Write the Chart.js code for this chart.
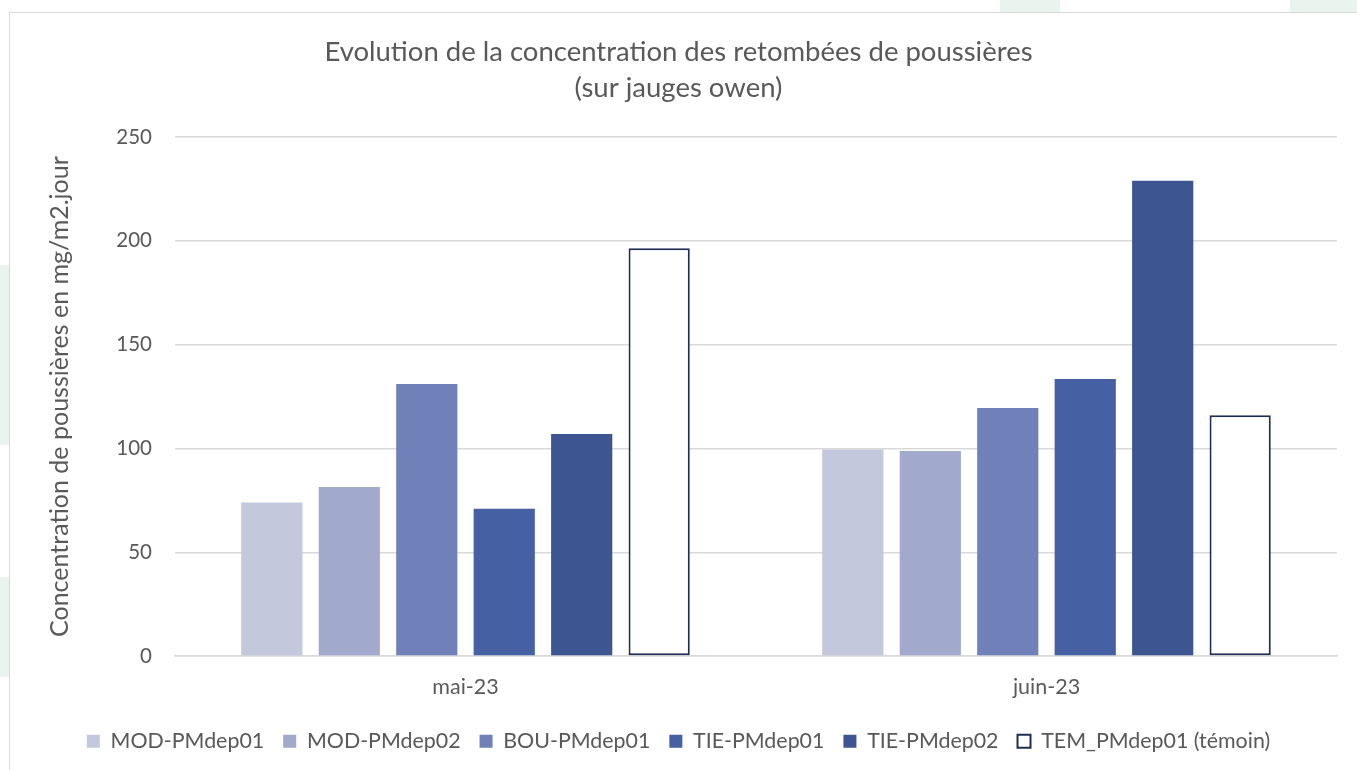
<!DOCTYPE html>
<html lang="fr">
<head>
  <meta charset="utf-8">
  <title>Evolution de la concentration des retombées de poussières</title>
  <script src="https://cdn.jsdelivr.net/npm/chart.js@4.4.0/dist/chart.umd.min.js"></script>
  <style>
    html, body { margin: 0; padding: 0; background: #fff; }
    #holder { position: relative; width: 1357px; height: 770px; }
  </style>
</head>
<body>
  <div id="holder">
    <canvas id="chart" width="1357" height="770"></canvas>
  </div>
<script>
  // donnees
  var mois = ['mai-23', 'juin-23'];
  var stations = ['MOD-PMdep01', 'MOD-PMdep02', 'BOU-PMdep01', 'TIE-PMdep01', 'TIE-PMdep02', 'TEM_PMdep01 (témoin)'];
  var modDep01 = [74, 99.5];
  var modDep02 = [81.5, 98.8];
  var bouDep01 = [131, 119.5];
  var tieDep01 = [71, 133.5];
  var tieDep02 = [107, 229];
  var temDep01 = [196.5, 116];
  var yTicks = [0, 50, 100, 150, 200, 250];

  var couleurs = ['#C3C8DC', '#A1A9CC', '#7080B8', '#4561A3', '#3D5590', '#FFFFFF'];
  var series = [modDep01, modDep02, bouDep01, tieDep01, tieDep02, temDep01];
  var texte = '#595959';
  var police = 'Lato, "Open Sans", sans-serif';

  // cadre gris + formes vertes pales du fond
  var cadre = {
    id: 'cadre',
    beforeDraw: function (chart) {
      var c = chart.ctx;
      c.save();
      c.fillStyle = '#EAF4EE';
      c.fillRect(0, 265, 9, 180);
      c.fillRect(0, 577, 9, 100);
      c.fillRect(1000, 0, 60, 12);
      c.fillRect(1290, 0, 67, 12);
      c.strokeStyle = '#D9D9D9';
      c.lineWidth = 1;
      c.strokeRect(9.5, 12.5, 1360, 780);
      c.restore();
    }
  };

  var datasets = stations.map(function (nom, i) {
    var temoin = i === 5;
    return {
      label: nom,
      data: series[i],
      backgroundColor: couleurs[i],
      borderColor: temoin ? '#1F2D55' : couleurs[i],
      borderWidth: temoin ? 2 : 0,
      borderSkipped: false
    };
  });

  var config = {
    type: 'bar',
    data: { labels: mois, datasets: datasets },
    plugins: [cadre],
    options: {
      responsive: false,
      animation: false,
      layout: { padding: { left: 20, right: 20, top: 0, bottom: 8 } },
      datasets: {
        bar: { categoryPercentage: 0.8, barPercentage: 0.79 }
      },
      plugins: {
        title: {
          display: true,
          text: ['Evolution de la concentration des retombées de poussières', '(sur jauges owen)'],
          color: texte,
          font: { family: police, size: 27.5, weight: 'normal', lineHeight: 1.31 },
          padding: { top: 34, bottom: 31 }
        },
        legend: {
          position: 'bottom',
          labels: {
            color: texte,
            font: { family: police, size: 21.4 },
            boxWidth: 13,
            boxHeight: 13,
            padding: 19
          }
        },
        tooltip: { enabled: false }
      },
      scales: {
        x: {
          grid: { display: false, drawTicks: false },
          border: { color: '#D9D9D9', width: 1.5 },
          ticks: { color: texte, font: { family: police, size: 21.5 }, padding: 18 },
          afterFit: function (s) { s.height = 55.5; }
        },
        y: {
          min: 0,
          max: 250,
          afterBuildTicks: function (s) { s.ticks = yTicks.map(function (v) { return { value: v }; }); },
          grid: { color: '#D9D9D9', lineWidth: 1.5, drawTicks: false },
          border: { display: false },
          ticks: { color: texte, font: { family: police, size: 20.5 }, padding: 23 },
          title: {
            display: true,
            text: 'Concentration de poussières en mg/m2.jour',
            color: texte,
            font: { family: police, size: 25 },
            padding: { top: 25 }
          },
          afterFit: function (s) { s.width = 155; }
        }
      }
    }
  };

  window.onload = function () {
    var ctx = document.getElementById('chart').getContext('2d');
    window.monGraphique = new Chart(ctx, config);
  };
</script>
</body>
</html>
